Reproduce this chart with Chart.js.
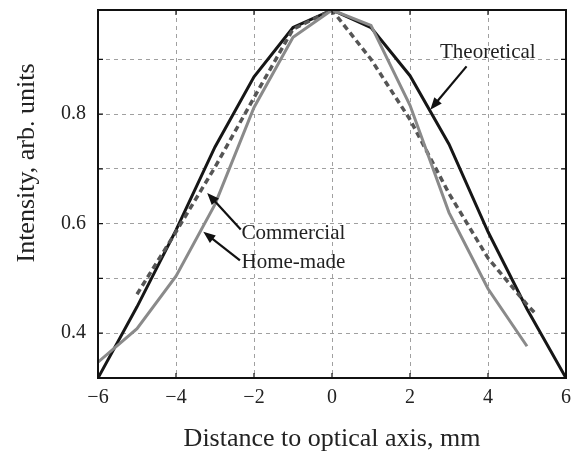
<!DOCTYPE html>
<html>
<head>
<meta charset="utf-8">
<script src="https://cdn.jsdelivr.net/npm/chart.js@4"></script>
<style>
  body { margin: 0; background: #fff; }
  canvas { display: block; }
</style>
</head>
<body>
<canvas id="chart" width="575" height="455"></canvas>
<script>
// data
const distX = [-6, -5, -4, -3, -2, -1, 0, 1, 2, 3, 4, 5, 6];
const theoretical = [0.318, 0.448, 0.588, 0.74, 0.868, 0.958, 0.99, 0.958, 0.87, 0.745, 0.585, 0.444, 0.318];
const homeX = [-6, -5, -4, -3, -2, -1, 0, 1, 2, 3, 4, 5];
const homeMade = [0.347, 0.408, 0.504, 0.635, 0.812, 0.94, 0.99, 0.962, 0.816, 0.62, 0.481, 0.376];
const commX = [-5, -4, -3, -2, -1, 0, 1, 2, 3, 4, 5, 5.25];
const commercial = [0.471, 0.585, 0.703, 0.83, 0.955, 0.99, 0.9, 0.79, 0.655, 0.537, 0.452, 0.433];
const xTicks = [-6, -4, -2, 0, 2, 4, 6];
const yTicks = [0.4, 0.5, 0.6, 0.7, 0.8, 0.9];
const yLabelled = [0.4, 0.6, 0.8];

const serif = '"Liberation Serif", "DejaVu Serif", serif';
const pts = (xs, ys) => xs.map((x, i) => ({ x: x, y: ys[i] }));

// text labels with arrows, in data coordinates
const notes = [
  { text: 'Theoretical', tx: 2.77, ty: 0.912, from: [3.45, 0.887], to: [2.52, 0.808] },
  { text: 'Commercial', tx: -2.32, ty: 0.582, from: [-2.34, 0.589], to: [-3.2, 0.656] },
  { text: 'Home-made', tx: -2.32, ty: 0.529, from: [-2.36, 0.533], to: [-3.3, 0.585] }
];

const framePlugin = {
  id: 'frame',
  afterDatasetsDraw(chart) {
    const { ctx, chartArea: a, scales } = chart;
    ctx.save();
    // box
    ctx.strokeStyle = '#111';
    ctx.lineWidth = 2;
    ctx.strokeRect(a.left, a.top, a.right - a.left, a.bottom - a.top);
    // inward tick marks
    ctx.lineWidth = 1.2;
    ctx.beginPath();
    xTicks.forEach(v => {
      const px = scales.x.getPixelForValue(v);
      ctx.moveTo(px, a.bottom); ctx.lineTo(px, a.bottom - 5);
      ctx.moveTo(px, a.top); ctx.lineTo(px, a.top + 5);
    });
    yTicks.forEach(v => {
      const py = scales.y.getPixelForValue(v);
      ctx.moveTo(a.left, py); ctx.lineTo(a.left + 5, py);
      ctx.moveTo(a.right, py); ctx.lineTo(a.right - 5, py);
    });
    ctx.stroke();
    // annotations
    ctx.fillStyle = '#222';
    ctx.font = '21px ' + serif;
    ctx.textAlign = 'left';
    ctx.textBaseline = 'middle';
    notes.forEach(n => {
      ctx.fillText(n.text, scales.x.getPixelForValue(n.tx), scales.y.getPixelForValue(n.ty));
      const x1 = scales.x.getPixelForValue(n.from[0]), y1 = scales.y.getPixelForValue(n.from[1]);
      const x2 = scales.x.getPixelForValue(n.to[0]), y2 = scales.y.getPixelForValue(n.to[1]);
      const ang = Math.atan2(y2 - y1, x2 - x1);
      ctx.strokeStyle = '#111';
      ctx.lineWidth = 2.2;
      ctx.beginPath();
      ctx.moveTo(x1, y1);
      ctx.lineTo(x2 - 8 * Math.cos(ang), y2 - 8 * Math.sin(ang));
      ctx.stroke();
      ctx.fillStyle = '#111';
      ctx.beginPath();
      ctx.moveTo(x2, y2);
      ctx.lineTo(x2 - 13 * Math.cos(ang - 0.38), y2 - 13 * Math.sin(ang - 0.38));
      ctx.lineTo(x2 - 13 * Math.cos(ang + 0.38), y2 - 13 * Math.sin(ang + 0.38));
      ctx.closePath();
      ctx.fill();
      ctx.fillStyle = '#222';
    });
    // y axis title (sits a bit above the middle in the original)
    ctx.save();
    ctx.translate(27, 163);
    ctx.rotate(-Math.PI / 2);
    ctx.textAlign = 'center';
    ctx.font = '26px ' + serif;
    ctx.fillText('Intensity, arb. units', 0, 0);
    ctx.restore();
    ctx.restore();
  }
};

const gridStyle = { color: '#a0a0a0', lineWidth: 1, drawTicks: false };

new Chart(document.getElementById('chart'), {
  type: 'scatter',
  data: {
    datasets: [
      {
        label: 'Home-made',
        data: pts(homeX, homeMade),
        showLine: true,
        borderColor: '#8a8a8a',
        borderWidth: 3,
        pointRadius: 0,
        tension: 0
      },
      {
        label: 'Commercial',
        data: pts(commX, commercial),
        showLine: true,
        borderColor: '#555',
        borderWidth: 3.5,
        borderDash: [6, 4],
        pointRadius: 0,
        tension: 0
      },
      {
        label: 'Theoretical',
        data: pts(distX, theoretical),
        showLine: true,
        borderColor: '#161616',
        borderWidth: 3,
        pointRadius: 0,
        tension: 0
      }
    ]
  },
  options: {
    responsive: false,
    animation: false,
    devicePixelRatio: 1,
    layout: { padding: { top: 10, right: 9, left: 0, bottom: 0 } },
    plugins: {
      legend: { display: false },
      tooltip: { enabled: false }
    },
    scales: {
      x: {
        type: 'linear',
        min: -6,
        max: 6,
        afterBuildTicks: s => { s.ticks = xTicks.map(v => ({ value: v })); },
        afterFit: s => { s.height = 77; s.paddingLeft = 0; s.paddingRight = 0; },
        grid: Object.assign({ borderDash: [4, 4] }, gridStyle),
        border: { display: false, dash: [4, 4] },
        ticks: {
          color: '#222',
          font: { family: serif, size: 20 },
          padding: 8,
          maxRotation: 0,
          callback: v => (v < 0 ? '\u2212' + Math.abs(v) : String(v))
        },
        title: {
          display: true,
          text: 'Distance to optical axis, mm',
          color: '#222',
          font: { family: serif, size: 26 },
          padding: { top: 0, bottom: 0 }
        }
      },
      y: {
        min: 0.318,
        max: 0.99,
        afterBuildTicks: s => { s.ticks = yTicks.map(v => ({ value: v })); },
        afterFit: s => { s.width = 98; s.paddingTop = 0; s.paddingBottom = 0; },
        grid: gridStyle,
        border: { display: false, dash: [4, 4] },
        ticks: {
          color: '#222',
          font: { family: serif, size: 20 },
          padding: 12,
          callback: v => (yLabelled.some(t => Math.abs(t - v) < 1e-6) ? v.toFixed(1) : '')
        }
      }
    }
  },
  plugins: [framePlugin]
});
</script>
</body>
</html>
